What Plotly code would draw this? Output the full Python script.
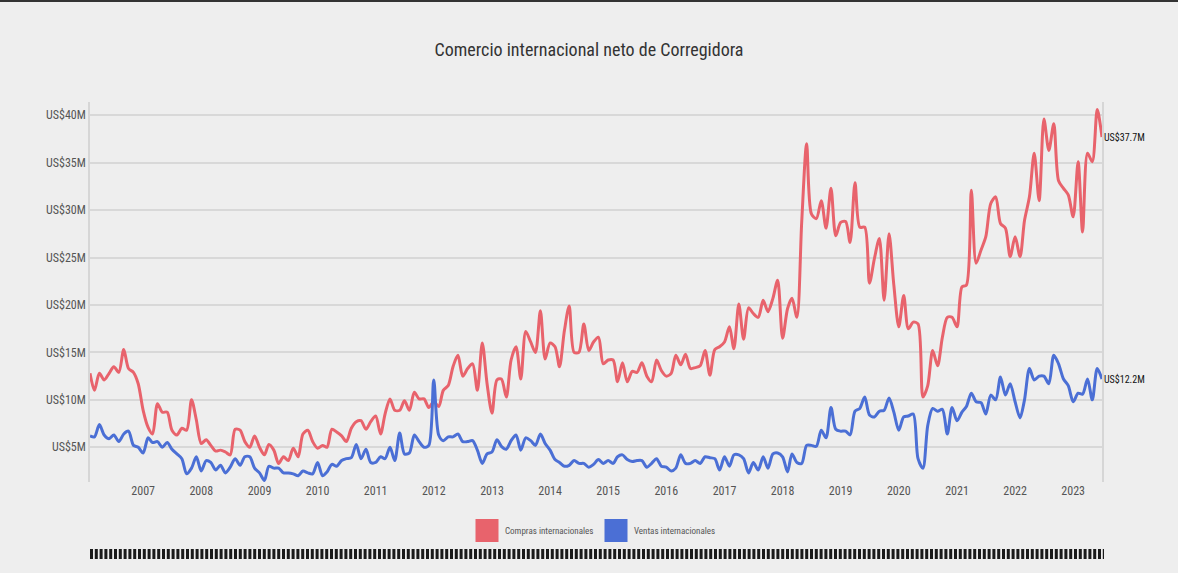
import pandas as pd
import plotly.graph_objects as go

TITLE = "Comercio internacional neto de Corregidora"
SERIES_NAMES = ["Compras internacionales", "Ventas internacionales"]
START_MONTH = "2006-02-01"

# Compras internacionales (millones de US$), por año (2006 desde febrero, 2023 hasta julio)
compras_2006 = [12.8, 11.0, 12.8, 12.1, 12.8, 13.5, 12.9, 15.3, 13.3, 12.9, 11.7]
compras_2007 = [8.9, 7.1, 6.4, 9.6, 8.7, 8.7, 6.8, 6.3, 7.0, 6.8, 10.0, 7.9]
compras_2008 = [5.4, 5.8, 5.2, 4.6, 4.7, 4.5, 4.2, 6.9, 6.8, 5.6, 5.0, 6.2]
compras_2009 = [5.0, 4.2, 5.3, 4.7, 3.3, 4.0, 3.6, 4.9, 4.0, 6.4, 6.8, 5.6]
compras_2010 = [4.9, 5.2, 5.0, 6.9, 6.6, 6.2, 5.6, 7.0, 7.7, 7.8, 6.9, 7.7]
compras_2011 = [8.3, 6.4, 8.5, 10.1, 8.9, 8.9, 9.9, 8.9, 10.8, 10.1, 10.1, 9.2]
compras_2012 = [9.8, 9.3, 11.0, 11.5, 13.5, 14.7, 12.5, 13.3, 13.8, 11.0, 16.0, 11.7]
compras_2013 = [8.6, 12.1, 12.2, 10.3, 14.2, 15.6, 12.2, 17.2, 16.1, 15.0, 19.4, 14.3]
compras_2014 = [16.0, 15.6, 13.5, 17.3, 19.9, 15.0, 15.0, 18.0, 15.2, 16.1, 16.6, 13.8]
compras_2015 = [14.2, 14.2, 11.9, 13.9, 11.9, 13.0, 12.9, 13.9, 12.5, 11.9, 14.2, 13.1]
compras_2016 = [12.5, 12.8, 14.7, 13.7, 14.8, 13.3, 13.4, 13.6, 15.2, 12.6, 15.3, 15.6]
compras_2017 = [16.1, 17.7, 15.4, 20.1, 16.4, 19.7, 19.1, 18.7, 20.5, 19.3, 20.7, 22.6]
compras_2018 = [16.5, 19.6, 20.7, 18.7, 28.7, 37.0, 29.6, 29.1, 31.0, 28.1, 32.3, 27.3]
compras_2019 = [28.7, 28.8, 26.6, 32.9, 28.2, 28.2, 22.3, 24.9, 27.0, 20.5, 27.5, 22.1]
compras_2020 = [17.7, 21.0, 17.5, 18.2, 18.0, 10.3, 11.5, 15.2, 13.6, 16.6, 18.7, 18.7]
compras_2021 = [17.7, 21.9, 22.1, 32.1, 24.4, 25.8, 27.2, 30.7, 31.4, 28.6, 28.1, 25.1]
compras_2022 = [27.2, 25.1, 28.9, 31.4, 36.0, 31.0, 39.6, 36.3, 39.1, 33.1, 32.3, 31.6]
compras_2023 = [29.3, 35.1, 27.7, 36.0, 35.1, 40.6, 37.7]

# Ventas internacionales (millones de US$)
ventas_2006 = [6.2, 6.1, 7.4, 6.3, 5.9, 6.3, 5.6, 6.4, 6.7, 5.2, 5.0]
ventas_2007 = [4.4, 6.0, 5.5, 5.6, 5.0, 5.5, 4.8, 4.3, 3.8, 2.2, 2.8, 4.0]
ventas_2008 = [2.5, 3.6, 3.4, 2.6, 3.1, 2.3, 2.9, 3.8, 3.1, 4.0, 4.0, 2.8]
ventas_2009 = [2.3, 1.5, 3.0, 2.8, 2.8, 2.3, 2.3, 2.2, 2.0, 2.5, 2.3, 2.2]
ventas_2010 = [3.4, 2.0, 2.4, 3.2, 3.0, 3.6, 3.8, 3.9, 5.3, 3.8, 4.8, 3.4]
ventas_2011 = [3.4, 4.0, 3.8, 5.0, 3.6, 6.5, 4.3, 4.4, 6.3, 5.6, 5.0, 5.2]
ventas_2012 = [12.1, 6.3, 5.7, 6.1, 6.1, 6.4, 5.6, 5.6, 5.7, 4.7, 3.3, 4.3]
ventas_2013 = [4.5, 5.8, 5.1, 4.8, 5.7, 6.3, 4.7, 6.0, 5.7, 5.2, 6.4, 5.4]
ventas_2014 = [4.7, 3.7, 3.4, 3.0, 3.1, 3.6, 3.3, 3.3, 2.9, 3.2, 3.7, 3.3]
ventas_2015 = [3.6, 3.3, 4.0, 4.2, 3.7, 3.5, 3.6, 3.6, 2.9, 3.3, 3.8, 3.0]
ventas_2016 = [2.9, 2.5, 2.8, 4.2, 3.3, 3.3, 3.6, 3.3, 4.0, 3.9, 3.8, 2.6]
ventas_2017 = [4.0, 3.0, 4.2, 4.2, 3.8, 2.3, 3.4, 2.6, 4.0, 2.8, 4.3, 4.4]
ventas_2018 = [4.0, 2.4, 4.3, 3.4, 3.3, 5.2, 5.2, 5.1, 6.8, 6.0, 9.2, 6.9]
ventas_2019 = [6.7, 6.7, 6.3, 8.8, 9.1, 10.3, 8.4, 8.2, 8.8, 8.9, 10.2, 8.7]
ventas_2020 = [6.8, 8.2, 8.3, 8.5, 3.8, 2.8, 7.3, 9.1, 8.8, 9.0, 6.4, 9.2]
ventas_2021 = [7.8, 8.7, 9.3, 10.7, 9.8, 9.7, 8.5, 10.5, 10.0, 12.4, 10.5, 11.7]
ventas_2022 = [9.8, 8.1, 10.0, 13.3, 12.1, 12.5, 12.5, 11.7, 14.7, 13.8, 12.2, 11.5]
ventas_2023 = [9.8, 10.7, 10.6, 12.2, 10.0, 13.3, 12.2]

compras = (compras_2006 + compras_2007 + compras_2008 + compras_2009 + compras_2010 +
           compras_2011 + compras_2012 + compras_2013 + compras_2014 + compras_2015 +
           compras_2016 + compras_2017 + compras_2018 + compras_2019 + compras_2020 +
           compras_2021 + compras_2022 + compras_2023)
ventas = (ventas_2006 + ventas_2007 + ventas_2008 + ventas_2009 + ventas_2010 +
          ventas_2011 + ventas_2012 + ventas_2013 + ventas_2014 + ventas_2015 +
          ventas_2016 + ventas_2017 + ventas_2018 + ventas_2019 + ventas_2020 +
          ventas_2021 + ventas_2022 + ventas_2023)

dates = pd.date_range(START_MONTH, periods=len(compras), freq="MS")

RED = "#e8636c"
BLUE = "#4b6fd5"
BG = "#eeeeee"
FONT = "Roboto Condensed, Liberation Sans Narrow, Roboto, sans-serif"

fig = go.Figure()
for name, vals, col in [(SERIES_NAMES[0], compras, RED), (SERIES_NAMES[1], ventas, BLUE)]:
    fig.add_trace(go.Scatter(
        x=dates, y=vals, mode="lines", name=name, showlegend=False,
        line=dict(color=col, width=3, shape="spline", smoothing=0.8),
    ))
    fig.add_annotation(
        x=dates[-1], y=vals[-1], text=f"US${vals[-1]:.1f}M", showarrow=False,
        xanchor="left", yanchor="middle", xshift=0,
        font=dict(family=FONT, size=10, color="#111111"),
    )

L, R, T, B = 90, 76, 102, 91
W, H = 1178, 573
pw, ph = W - L - R, H - T - B


def px_x(x):
    return (x - L) / pw


def px_y(y):
    return (H - B - y) / ph


# manual legend with square swatches
legend_items = [(SERIES_NAMES[0], RED, 475.5, 503), (SERIES_NAMES[1], BLUE, 604.5, 632)]
for name, col, sx, tx in legend_items:
    fig.add_shape(type="rect", xref="paper", yref="paper",
                  x0=px_x(sx), x1=px_x(sx + 23), y0=px_y(519), y1=px_y(542),
                  fillcolor=col, line=dict(color=col, width=0))
    fig.add_annotation(xref="paper", yref="paper", x=px_x(tx), y=px_y(530.5),
                       text=name, showarrow=False, xanchor="left", yanchor="middle",
                       font=dict(family=FONT, size=9, color="#555555"))

# dashed strip under legend
fig.add_shape(type="line", xref="paper", yref="paper",
              x0=px_x(90), x1=px_x(1104), y0=px_y(554), y1=px_y(554),
              line=dict(color="#1a1a1a", width=10, dash="3px,1.8px"))

# top border line
fig.add_shape(type="line", xref="paper", yref="paper",
              x0=px_x(-2), x1=px_x(W + 2), y0=px_y(1), y1=px_y(1),
              line=dict(color="#333333", width=2))

fig.update_layout(
    width=W, height=H,
    margin=dict(l=L, r=R, t=T, b=B),
    paper_bgcolor=BG, plot_bgcolor=BG,
    title=dict(text=TITLE, x=0.5, xanchor="center", y=1 - 50 / H, yanchor="middle",
               font=dict(family=FONT, size=18, color="#333333")),
    font=dict(family=FONT, color="#555555", size=12),
    showlegend=False,
    xaxis=dict(range=[dates[0], dates[-1]], dtick="M12", tickformat="%Y",
               showgrid=False, zeroline=False, showline=False, ticks="",
               tickfont=dict(size=12, color="#555555")),
    yaxis=dict(range=[1.34, 41.4], tick0=5, dtick=5, tickprefix="US$", ticksuffix="M",
               showgrid=True, gridcolor="#d8d8d8", gridwidth=1.5, zeroline=False,
               showline=True, linecolor="#d6d6d6", linewidth=1.5, mirror=True,
               ticks="", tickfont=dict(size=12, color="#555555")),
)

fig.write_html("out.html", config={"displayModeBar": False},
               post_script="document.body.style.margin='0px';document.body.style.overflow='hidden';")
